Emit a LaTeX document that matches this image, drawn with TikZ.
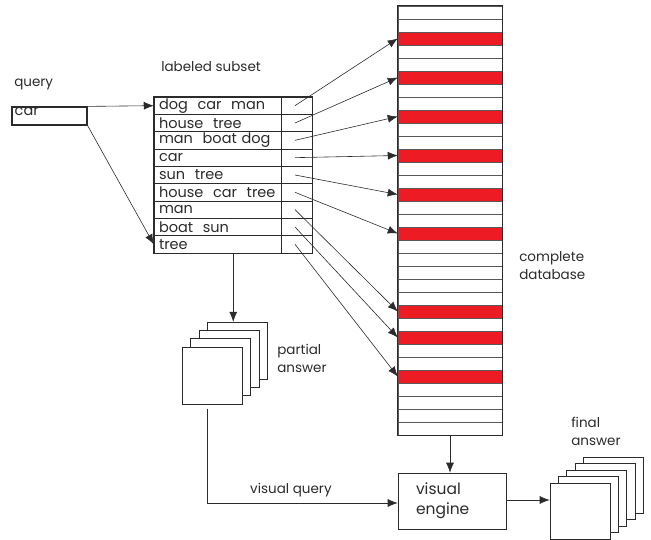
\documentclass[tikz,border=0pt]{standalone}
\usepackage{fontspec}
\setmainfont{Poppins}
\usepackage{tikz}
\usetikzlibrary{calc,arrows.meta,positioning}
\definecolor{db-red}{HTML}{ED1C24}
\definecolor{ink}{HTML}{2B2B2B}

\begin{document}
\begin{tikzpicture}[x=1pt, y=-1pt, >={Latex[length=10pt,width=8pt]}, ink, line width=0.6pt,
    lbl/.style={font=\fontsize{13.5}{18}\selectfont, align=left, inner sep=0pt},
    labrow/.style={draw, line width=0.5pt, minimum height=17.33pt, text width=117pt, inner xsep=5pt, inner ysep=0pt, align=left, font=\fontsize{14.5}{15}\selectfont},
    labcell/.style={draw, line width=0.5pt, minimum height=17.33pt, minimum width=31pt, inner sep=0pt},
    dbrow/.style={draw=gray!70!black, line width=0.5pt, minimum height=13pt, minimum width=104pt, inner sep=0pt},
    page/.style={draw, fill=white, minimum width=60pt, inner sep=0pt}]
    \useasboundingbox (0,0) rectangle (651,540);

    % query
    \node[lbl, anchor=west] (querylbl) at (14,84) {query};
    \node[draw, very thick, minimum width=75pt, minimum height=18pt, inner sep=0pt] (query) at (49.5,116) {};
    \node[lbl, anchor=north west, font=\fontsize{14.5}{15}\selectfont] (querytxt) at ([xshift=3pt,yshift=-1pt]query.north west) {car};

    % labeled subset
    \node[lbl, anchor=west] (subsetlbl) at (161,67) {labeled subset};
    \foreach \t [count=\i from 0] in {dog~~car~~man, house~~tree, man~~boat dog, car, sun~~tree, house~~car~~tree, man, boat~~sun, tree} {
        \node[labrow] (row\i) at (217.5,105.67+17.33*\i) {\t};
        \node[labcell, anchor=west] (cell\i) at (row\i.east) {};
    }
    \draw[thick] (row0.north west) rectangle (cell8.south east);

    % complete database
    \foreach \i in {0,...,32} {
        \xdef\rowfill{white}
        \foreach \r in {2,5,8,11,14,17,23,25,28} {\ifnum\i=\r \xdef\rowfill{db-red}\fi}
        \node[dbrow, fill=\rowfill] (db\i) at (450,12.5+13*\i) {};
    }
    \draw[thick] (db0.north west) rectangle (db32.south east);
    \node[lbl, anchor=west] (dblbl) at (519,266) {complete\\database};

    \draw[->] (query.north east) -- (row0.west);
    \draw[->] (query.south east) -- (row8.west);
    \foreach \i/\j in {0/2,1/5,2/8,3/11,4/14,5/17,6/23,7/25,8/28}
        \draw[->] ([xshift=-2pt]cell\i.center) -- (db\j.west);

    % partial answer
    \foreach \k in {3,2,1,0}
        \node[page, minimum height=57pt] (pa\k) at (212+8.5*\k,375.5-8.3*\k) {};
    \node[lbl, anchor=west] (palbl) at (277,358) {partial\\answer};
    \coordinate (tbot) at ($(row8.south west)!0.5!(cell8.south east)$);
    \draw[->] (tbot) -- (tbot |- pa3.north);

    % visual engine
    \node[draw, minimum width=108pt, minimum height=56pt, text width=72pt, inner xsep=18pt, align=left,
        font=\fontsize{15.5}{20}\selectfont] (engine) at (452,501) {visual\\engine};
    \draw[->] (db32.south) -- (db32.south |- engine.north);
    \draw[->] ([xshift=-5pt,yshift=-5pt]pa0.south) |- ([yshift=-2pt]engine.west)
        node[lbl, pos=0.72, above=6pt] (vqlbl) {visual query};

    % final answer
    \foreach \k in {4,3,2,1,0}
        \node[page, minimum height=56pt] (fa\k) at (580+8.3*\k,511-6.5*\k) {};
    \node[lbl, anchor=west] (falbl) at (571,431) {final\\answer};
    \draw[->] ([yshift=1pt]engine.east) -- ([yshift=1pt]engine.east -| fa0.west);
\end{tikzpicture}
\end{document}
